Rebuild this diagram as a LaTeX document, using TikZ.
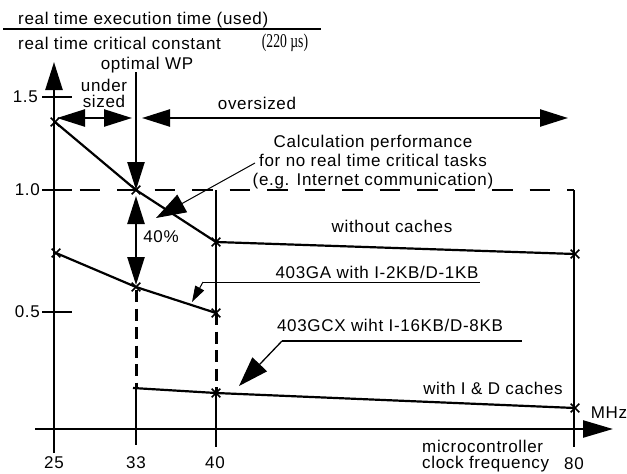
\documentclass[tikz,border=0pt]{standalone}
\usepackage{graphicx}
\usepackage{fontspec}
\setmainfont[LetterSpace=4]{Liberation Sans}
\newfontfamily\serifpart{Liberation Serif}
\usetikzlibrary{arrows.meta,shapes.misc}
\begin{document}
\begin{tikzpicture}[x=1pt,y=-1pt,
  lbl/.style={font=\fontsize{17}{19}\selectfont, inner sep=0pt},
  thickln/.style={line width=2.2pt},
  axisln/.style={line width=2.4pt},
  thinln/.style={line width=1pt},
  bighead/.style={-{Triangle[length=28pt,width=17pt]}},
  bothheads/.style={{Triangle[length=28pt,width=17pt]}-{Triangle[length=28pt,width=17pt]}},
  ptmark/.style={cross out, draw, line width=1.6pt, minimum size=7pt, inner sep=0pt},
  longdash/.style={line width=2pt, dash pattern=on 20.5pt off 17pt},
  shortdash/.style={line width=3pt, dash pattern=on 12pt off 6.5pt}]
\useasboundingbox (0,0) rectangle (627,474);

% titles
\node[lbl, anchor=west] (t1) at (18,20) {real time execution time (used)};
\coordinate (rl) at (3,29); \coordinate (rr) at (321,29);
\draw[line width=1.6pt] (rl) -- (rr);
\node[lbl, anchor=west] (t2) at (18,43) {real time critical constant};
\node[inner sep=0pt, font=\serifpart\fontsize{19.5}{21}\selectfont] (t2b) at (285,43) {\scalebox{0.7}[1]{(220 µs)}};

% axes
\coordinate (yb) at (54,453); \coordinate (yt) at (54,62);
\draw[axisln, bighead] (yb) -- (yt);
\coordinate (xl) at (35,429); \coordinate (xr) at (613,429);
\draw[axisln, -{Triangle[length=30pt,width=17pt]}] (xl) -- (xr);

% y ticks and labels
\coordinate (k15a) at (42,97); \coordinate (k15b) at (72,97);
\coordinate (k10a) at (42,190); \coordinate (k10b) at (72,190);
\coordinate (k05a) at (42,312); \coordinate (k05b) at (72,312);
\draw[axisln] (k15a) -- (k15b);
\draw[axisln] (k10a) -- (k10b);
\draw[axisln] (k05a) -- (k05b);
\node[lbl, anchor=east] (l15) at (38,97) {1.5};
\node[lbl, anchor=east] (l10) at (40,190) {1.0};
\node[lbl, anchor=east] (l05) at (40,312) {0.5};

% dashed 1.0 line
\coordinate (d80) at (574,190);
\draw[longdash] (k10a) -- (d80);

% x labels
\node[lbl] (x25) at (54,463) {25};
\node[lbl] (x33) at (136,463) {33};
\node[lbl] (x40) at (215,463) {40};
\node[lbl] (x80) at (574,464) {80};
\node[lbl, anchor=west] (mc) at (422,446) {microcontroller};
\node[lbl, anchor=west] (cf) at (422,464) {clock frequency};
\node[lbl] (mhz) at (609,413) {MHz};

% data points
\coordinate (P1) at (55,122); \coordinate (P2) at (136,190);
\coordinate (P3) at (216,242); \coordinate (P4) at (575,254);
\coordinate (Q1) at (56,253); \coordinate (Q2) at (136,287);
\coordinate (Q3) at (216,313);
\coordinate (R1) at (133,388); \coordinate (R2) at (216,393);
\coordinate (R3) at (575,408);

% verticals at 33
\coordinate (wpTop) at (136,72);
\draw[axisln, bighead] (wpTop) -- (P2);
\coordinate (pcA) at (136,196); \coordinate (pcB) at (136,285);
\draw[axisln, bothheads] (pcA) -- (pcB);
\coordinate (v33a) at (136,290); \coordinate (v33b) at (136,388); \coordinate (v33c) at (136,445);
\draw[shortdash] (v33a) -- (v33b);
\draw[axisln] (v33b) -- (v33c);
% verticals at 40
\coordinate (v40a) at (216,190); \coordinate (v40c) at (216,447);
\draw[axisln] (v40a) -- (Q3);
\draw[shortdash] (Q3) -- (R2);
\draw[axisln] (R2) -- (v40c);
% vertical at 80
\coordinate (v80c) at (574,447);
\draw[axisln] (d80) -- (v80c);

% range arrows
\coordinate (uA) at (57,118); \coordinate (uB) at (132,118);
\draw[axisln, bothheads] (uA) -- (uB);
\coordinate (oA) at (142,118); \coordinate (oB) at (568,118);
\draw[axisln, bothheads] (oA) -- (oB);

% curves
\draw[thickln] (P1) -- (P2) -- (P3) -- (P4);
\draw[thickln] (Q1) -- (Q2) -- (Q3);
\draw[thickln] (R1) -- (R2) -- (R3);
\foreach \p in {P1,P2,P3,P4,Q1,Q2,Q3,R2,R3}
  \node[ptmark] at (\p) {};

% labels
\node[lbl] (wp) at (147,65) {optimal WP};
\node[lbl] (us1) at (104,85.5) {under};
\node[lbl] (us2) at (104,101.5) {sized};
\node[lbl] (ov) at (257,103) {oversized};
\node[lbl] (pc) at (161,237) {40\%};
\node[lbl, align=center] (calc) at (373,162) {Calculation performance\\for no real time critical tasks\\(e.g. Internet communication)};
\node[lbl] (woc) at (392,226) {without caches};
\node[lbl] (ga) at (377,272) {403GA with I-2KB/D-1KB};
\node[lbl] (gcx) at (390,325) {403GCX wiht I-16KB/D-8KB};
\node[lbl] (wc) at (493,388) {with I \& D caches};

% annotation arrows
\coordinate (cS) at (255,163); \coordinate (cT) at (156,218);
\draw[thinln, -{Triangle[length=30pt,width=20pt]}] (cS) -- (cT);
\coordinate (gaL) at (203,282); \coordinate (gaR) at (480,282); \coordinate (gaT) at (192,302);
\draw[thinln] (gaL) -- (gaR);
\draw[thinln, -{Triangle[length=16pt,width=10pt]}] (gaL) -- (gaT);
\coordinate (gxL) at (282,341); \coordinate (gxR) at (522,341); \coordinate (gxT) at (239,386);
\draw[line width=2pt] (gxL) -- (gxR);
\draw[line width=1.3pt, -{Triangle[length=30pt,width=20pt]}] (gxL) -- (gxT);
\end{tikzpicture}
\end{document}
